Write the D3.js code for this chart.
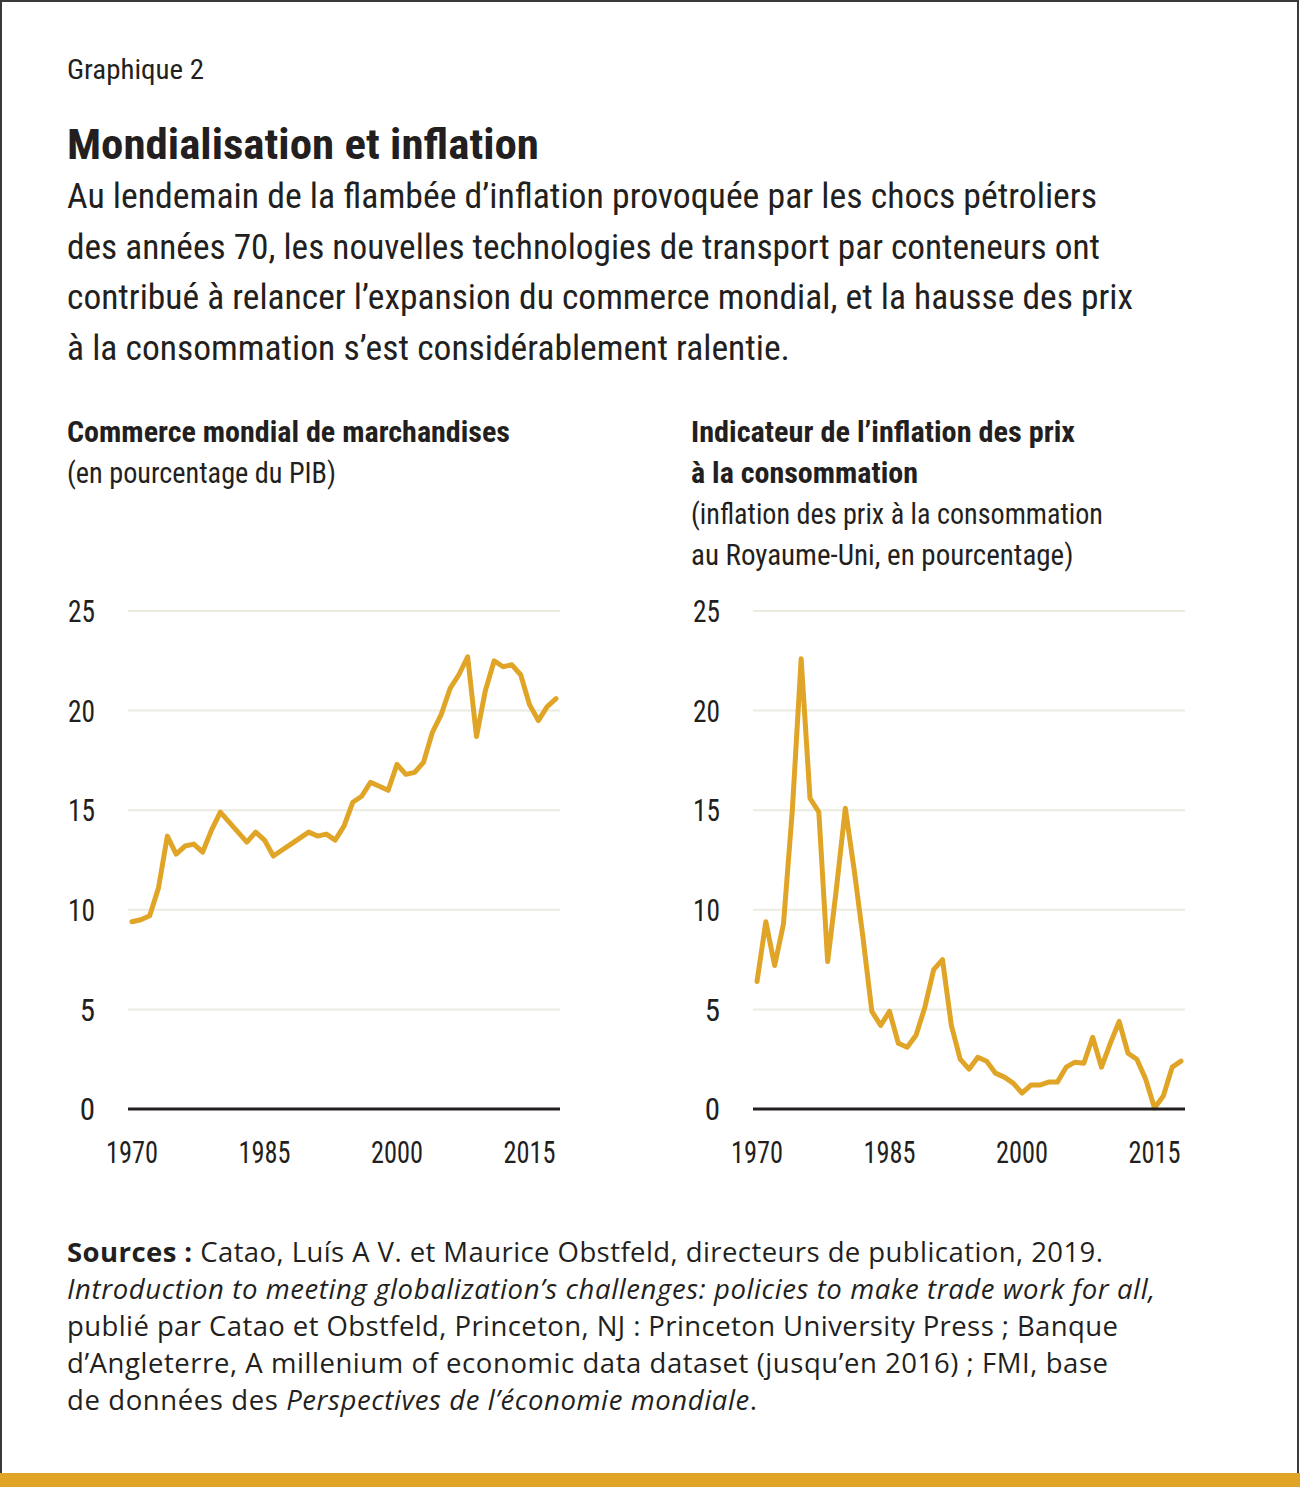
<!DOCTYPE html>
<html>
<head>
<meta charset="utf-8">
<script src="https://cdn.jsdelivr.net/npm/d3@7"></script>
<style>
  html, body { margin: 0; padding: 0; background: #fff; }
  svg { display: block; }
  .narrow { font-family: "Roboto", "Liberation Sans", sans-serif; font-stretch: condensed; fill: #231f20; }
  .src { font-family: "Open Sans", "Noto Sans", sans-serif; fill: #231f20; }
</style>
</head>
<body>
<svg id="chart" width="1300" height="1487"></svg>
<script>
/* Graphique 2 — Mondialisation et inflation: two small line panels side by side. */
(function () {
  "use strict";

  const GOLD = "#e0a526", GRID = "#ecebdf", INK = "#231f20";

  const years = d3.range(1970, 2019);
  // commerce mondial de marchandises, % du PIB
  const trade = [9.4, 9.5, 9.7, 11.1, 13.7, 12.8, 13.2, 13.3, 12.9, 14.0,
                 14.9, 14.4, 13.9, 13.4, 13.9, 13.5, 12.7, 13.0, 13.3, 13.6,
                 13.9, 13.7, 13.8, 13.5, 14.2, 15.4, 15.7, 16.4, 16.2, 16.0,
                 17.3, 16.8, 16.9, 17.4, 18.9, 19.8, 21.1, 21.8, 22.7, 18.7,
                 21.0, 22.5, 22.2, 22.3, 21.8, 20.3, 19.5, 20.2, 20.6];
  // inflation des prix à la consommation au Royaume-Uni, %
  const inflation = [6.4, 9.4, 7.2, 9.3, 15.0, 22.6, 15.6, 14.9, 7.4, 11.1,
                     15.1, 12.0, 8.6, 4.9, 4.2, 4.9, 3.3, 3.1, 3.7, 5.1,
                     7.0, 7.5, 4.2, 2.5, 2.0, 2.6, 2.4, 1.8, 1.6, 1.3,
                     0.8, 1.2, 1.2, 1.35, 1.35, 2.1, 2.35, 2.3, 3.6, 2.1,
                     3.3, 4.4, 2.8, 2.5, 1.5, 0.05, 0.65, 2.1, 2.4];
  const yTicks = [0, 5, 10, 15, 20, 25];
  const xTicks = [1970, 1985, 2000, 2015];

  const subtitle = [
    "Au lendemain de la flambée d’inflation provoquée par les chocs pétroliers",
    "des années 70, les nouvelles technologies de transport par conteneurs ont",
    "contribué à relancer l’expansion du commerce mondial, et la hausse des prix",
    "à la consommation s’est considérablement ralentie."
  ];

  const svg = d3.select("#chart");

  // squeeze a text to the width it takes in the printed chart (the face there is a condensed one)
  function fit(sel, w, adjust) {
    const n = sel.node();
    if (Math.abs(n.getComputedTextLength() - w) > 1) {
      sel.attr("textLength", w).attr("lengthAdjust", adjust || "spacingAndGlyphs");
    }
    return sel;
  }

  // frame: thin dark border, gold band at the foot
  svg.append("rect").attr("x", 1).attr("y", 1).attr("width", 1297).attr("height", 1485)
    .attr("fill", "none").attr("stroke", "#3a3a3a").attr("stroke-width", 2);
  svg.append("rect").attr("x", 0).attr("y", 1473).attr("width", 1300).attr("height", 14).attr("fill", GOLD);

  // header
  fit(svg.append("text").attr("class", "narrow").attr("x", 67).attr("y", 79)
    .attr("font-size", 28).text("Graphique 2"), 137);
  fit(svg.append("text").attr("class", "narrow").attr("x", 67).attr("y", 159)
    .attr("font-size", 43).attr("font-weight", 700).text("Mondialisation et inflation"), 472);
  const subW = [1030, 1033, 1066, 723];
  subtitle.forEach((t, i) => {
    fit(svg.append("text").attr("class", "narrow").attr("x", 67).attr("y", 208 + i * 50.7)
      .attr("font-size", 35).text(t), subW[i]);
  });

  function panel(opts) {
    const g = svg.append("g");
    opts.title.forEach((t, i) => {
      fit(g.append("text").attr("class", "narrow").attr("x", opts.tx).attr("y", 442 + i * 41)
        .attr("font-size", 29).attr("font-weight", i < opts.boldLines ? 700 : 400).text(t), opts.titleW[i]);
    });

    const x = d3.scaleLinear().domain([1970, 2018]).range([opts.x0, opts.x0 + 424]);
    const y = d3.scaleLinear().domain([0, 25]).range([1109, 611]);

    // gridlines
    g.selectAll(".grid").data(yTicks.filter((v) => v > 0)).enter().append("line")
      .attr("x1", opts.x0 - 4).attr("x2", opts.x0 + 428)
      .attr("y1", (v) => y(v)).attr("y2", (v) => y(v))
      .attr("stroke", GRID).attr("stroke-width", 2);

    // y labels
    g.selectAll(".yl").data(yTicks).enter().append("text").attr("class", "narrow")
      .attr("x", opts.x0 - 37).attr("y", (v) => y(v)).attr("dy", "0.36em")
      .attr("text-anchor", "end").attr("font-size", 31).text((v) => v)
      .each(function (v) { if (v >= 10) fit(d3.select(this), 27); });

    // x labels
    g.selectAll(".xl").data(xTicks).enter().append("text").attr("class", "narrow")
      .attr("x", (v) => x(v)).attr("y", 1163)
      .attr("text-anchor", "middle").attr("font-size", 31).text((v) => v)
      .each(function () { fit(d3.select(this), 52); });

    const line = d3.line().x((d, i) => x(years[i])).y((d) => y(d));
    g.append("path").datum(opts.values).attr("fill", "none").attr("stroke", GOLD)
      .attr("stroke-width", 5).attr("stroke-linejoin", "round").attr("stroke-linecap", "round")
      .attr("d", line);

    // zero baseline
    g.append("line").attr("x1", opts.x0 - 4).attr("x2", opts.x0 + 428)
      .attr("y1", y(0)).attr("y2", y(0)).attr("stroke", INK).attr("stroke-width", 3);
  }

  panel({ x0: 132, tx: 67, boldLines: 1, values: trade,
          title: ["Commerce mondial de marchandises", "(en pourcentage du PIB)"],
          titleW: [443, 269] });
  panel({ x0: 757, tx: 691, boldLines: 2, values: inflation,
          title: ["Indicateur de l’inflation des prix", "à la consommation",
                  "(inflation des prix à la consommation", "au Royaume-Uni, en pourcentage)"],
          titleW: [384, 227, 412, 382] });

  // sources
  const srcLines = [
    [["Sources : ", "b"], ["Catao, Luís A V. et Maurice Obstfeld, directeurs de publication, 2019.", ""]],
    [["Introduction to meeting globalization’s challenges: policies to make trade work for all,", "i"]],
    [["publié par Catao et Obstfeld, Princeton, NJ : Princeton University Press ; Banque", ""]],
    [["d’Angleterre, A millenium of economic data dataset (jusqu’en 2016) ; FMI, base", ""]],
    [["de données des ", ""], ["Perspectives de l’économie mondiale", "i"], [".", ""]]
  ];
  const srcW = [1036, 1088, 1051, 1041, 690];
  srcLines.forEach((parts, i) => {
    const t = svg.append("text").attr("class", "src").attr("font-size", 27.5)
      .attr("x", 67).attr("y", 1262 + i * 37);
    parts.forEach((p) => {
      const ts = t.append("tspan").text(p[0]);
      if (p[1] === "b") ts.attr("font-weight", 700);
      if (p[1] === "i") ts.attr("font-style", "italic");
    });
    fit(t, srcW[i], "spacing");
  });
})();
</script>
</body>
</html>
